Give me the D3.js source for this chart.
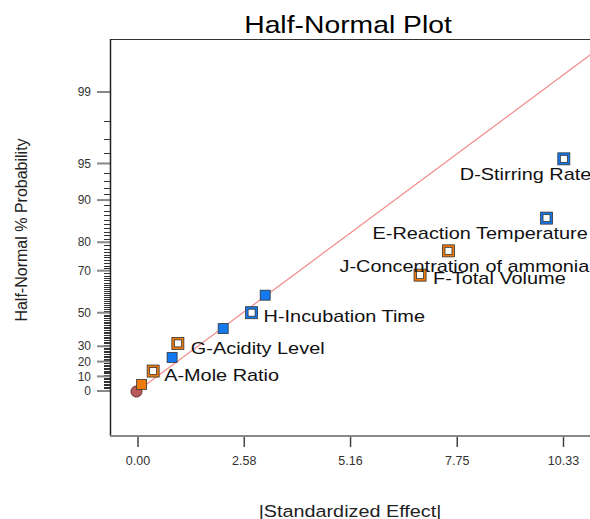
<!DOCTYPE html>
<html>
<head>
<meta charset="utf-8">
<script src="https://cdn.jsdelivr.net/npm/d3@7"></script>
<style>
	body { margin: 0; background: #fff; }
	svg { display: block; font-family: "Liberation Sans", Arial, sans-serif; }
</style>
</head>
<body>
<svg id="chart" width="590" height="519"></svg>
<script>
// |standardized effect| and half-normal % probability of each term
var effects = [0.10, 0.38, 0.84, 0.98, 2.08, 2.77, 3.10, 6.86, 7.55, 9.93, 10.35];
var probs   = [4.55, 13.64, 22.73, 31.82, 40.91, 50.00, 59.09, 68.18, 77.27, 86.36, 95.45];
var signs   = ["pos", "pos", "neg", "pos", "neg", "neg", "neg", "pos", "pos", "neg", "neg"];
var chosen  = [false, true, false, true, false, true, false, true, true, true, true];
var labels  = ["", "A-Mole Ratio", "", "G-Acidity Level", "", "H-Incubation Time", "",
               "F-Total Volume", "J-Concentration of ammonia", "E-Reaction Temperature", "D-Stirring Rate"];
// error estimate point
var errorEffect = [0];
var errorProb = [0];
// reference line: z = lineSlope * effect
var lineSlope = 0.2635;

var xTicks = [0.00, 2.58, 5.16, 7.75, 10.33];
var yMajor = [0, 10, 20, 30, 50, 70, 80, 90, 95, 99];

// label offsets in px from the marker (left x, baseline)
var labelDx = [0, 11, 0, 13, 0, 12, 0, 13, -109, -174, -104];
var labelDy = [0, 10, 0, 11, 0, 9, 0, 9, 21, 21, 21];

var colors = { pos: "#ef7a0c", neg: "#1479ee" };

// inverse normal cdf (Acklam)
function probit(p) {
	var a = [-3.969683028665376e+01, 2.209460984245205e+02, -2.759285104469687e+02, 1.383577518672690e+02, -3.066479806614716e+01, 2.506628277459239e+00];
	var b = [-5.447609879822406e+01, 1.615858368580409e+02, -1.556989798598866e+02, 6.680131188771972e+01, -1.328068155288572e+01];
	var c = [-7.784894002430293e-03, -3.223964580411365e-01, -2.400758277161838e+00, -2.549732539343734e+00, 4.374664141464968e+00, 2.938163982698783e+00];
	var d = [7.784695709041462e-03, 3.224671290700398e-01, 2.445134137142996e+00, 3.754408661907416e+00];
	var q, r;
	if (p < 0.02425) {
		q = Math.sqrt(-2 * Math.log(p));
		return (((((c[0]*q+c[1])*q+c[2])*q+c[3])*q+c[4])*q+c[5]) / ((((d[0]*q+d[1])*q+d[2])*q+d[3])*q+1);
	}
	if (p > 1 - 0.02425) {
		q = Math.sqrt(-2 * Math.log(1 - p));
		return -(((((c[0]*q+c[1])*q+c[2])*q+c[3])*q+c[4])*q+c[5]) / ((((d[0]*q+d[1])*q+d[2])*q+d[3])*q+1);
	}
	q = p - 0.5; r = q * q;
	return (((((a[0]*r+a[1])*r+a[2])*r+a[3])*r+a[4])*r+a[5])*q / (((((b[0]*r+b[1])*r+b[2])*r+b[3])*r+b[4])*r+1);
}
function halfZ(pct) { return pct <= 0 ? 0 : probit(0.5 + pct / 200); }

var svg = d3.select("#chart");
var frame = { left: 110, top: 39, right: 620, bottom: 436 };

var x = d3.scaleLinear().domain([0, 10.33]).range([137.5, 563]);
var yz = d3.scaleLinear().domain([0, halfZ(99)]).range([391, 92]);
function y(pct) { return yz(halfZ(pct)); }

svg.append("defs").append("clipPath").attr("id", "clip")
	.append("rect").attr("x", frame.left).attr("y", frame.top)
	.attr("width", frame.right - frame.left).attr("height", frame.bottom - frame.top);

// title
svg.append("text")
	.attr("transform", "translate(348,33) scale(1.18,1)")
	.attr("text-anchor", "middle").attr("font-size", 24).attr("fill", "#000")
	.text("Half-Normal Plot");

// y minor ticks
var minor = d3.range(1, 99).filter(function(v) { return yMajor.indexOf(v) < 0; });
svg.append("g").selectAll("line").data(minor).enter().append("line")
	.attr("x1", frame.left - 6).attr("x2", frame.left)
	.attr("y1", function(d) { return Math.round(y(d)) + 0.5; })
	.attr("y2", function(d) { return Math.round(y(d)) + 0.5; })
	.attr("stroke", "#333").attr("stroke-width", 1);

// y major ticks + labels
var yAxis = svg.append("g");
yAxis.selectAll("line").data(yMajor).enter().append("line")
	.attr("x1", frame.left - 13).attr("x2", frame.left)
	.attr("y1", function(d) { return y(d); }).attr("y2", function(d) { return y(d); })
	.attr("stroke", "#888").attr("stroke-width", 2);
yAxis.selectAll("text").data(yMajor).enter().append("text")
	.attr("x", 91).attr("y", function(d) { return y(d); }).attr("dy", "0.35em")
	.attr("text-anchor", "end").attr("font-size", 12).attr("fill", "#333")
	.text(function(d) { return d; });

// x axis
var xAxis = svg.append("g")
	.attr("transform", "translate(0," + frame.bottom + ")")
	.call(d3.axisBottom(x).tickValues(xTicks).tickSize(11).tickSizeOuter(0)
		.tickFormat(d3.format(".2f")));
xAxis.select(".domain").remove();
xAxis.selectAll(".tick line").attr("stroke", "#444").attr("stroke-width", 1.5);
xAxis.selectAll(".tick text").attr("font-size", 12.5).attr("fill", "#333")
	.attr("font-family", "Liberation Sans, Arial, sans-serif").attr("y", 20);

// frame
svg.append("line").attr("x1", frame.left).attr("x2", frame.right)
	.attr("y1", frame.top + 0.5).attr("y2", frame.top + 0.5).attr("stroke", "#333").attr("stroke-width", 1.2);
svg.append("line").attr("x1", frame.left + 0.5).attr("x2", frame.left + 0.5)
	.attr("y1", frame.top).attr("y2", frame.bottom).attr("stroke", "#222").attr("stroke-width", 1.5);
svg.append("line").attr("x1", frame.left).attr("x2", frame.right)
	.attr("y1", frame.bottom).attr("y2", frame.bottom).attr("stroke", "#888").attr("stroke-width", 2);

// axis titles
svg.append("text")
	.attr("transform", "translate(27,230) rotate(-90)")
	.attr("text-anchor", "middle").attr("font-size", 16).attr("fill", "#222")
	.text("Half-Normal % Probability");
svg.append("text")
	.attr("transform", "translate(350,517) scale(1.2,1)")
	.attr("text-anchor", "middle").attr("font-size", 16.5).attr("fill", "#222")
	.text("|Standardized Effect|");

// reference line
var lineEffects = [0, 12];
svg.append("path")
	.datum(lineEffects)
	.attr("clip-path", "url(#clip)")
	.attr("fill", "none").attr("stroke", "#f28a8a").attr("stroke-width", 1.2)
	.attr("d", d3.line()
		.x(function(d) { return x(d); })
		.y(function(d) { return yz(lineSlope * d); }));

// error point
svg.append("g").selectAll("circle").data(errorEffect).enter().append("circle")
	.attr("cx", function(d) { return x(d) - 1; })
	.attr("cy", function(d, i) { return y(errorProb[i]) + 0.5; })
	.attr("r", 5.5)
	.attr("fill", "#b85a5a").attr("stroke", "#5a2828").attr("stroke-width", 1);

// term markers
var pts = effects.map(function(e, i) {
	return { e: e, p: probs[i], s: signs[i], c: chosen[i], label: labels[i], dx: labelDx[i], dy: labelDy[i] };
});
var marks = svg.append("g").selectAll("g").data(pts).enter().append("g")
	.attr("transform", function(d) { return "translate(" + x(d.e) + "," + y(d.p) + ")"; });

marks.filter(function(d) { return !d.c; }).append("rect")
	.attr("x", -5).attr("y", -5).attr("width", 10).attr("height", 10)
	.attr("fill", function(d) { return colors[d.s]; })
	.attr("stroke", "#333").attr("stroke-width", 0.8);

var hollow = marks.filter(function(d) { return d.c; });
hollow.append("rect")
	.attr("x", -6).attr("y", -6).attr("width", 12).attr("height", 12)
	.attr("fill", function(d) { return colors[d.s]; })
	.attr("stroke", "#333").attr("stroke-width", 0.8);
hollow.append("rect")
	.attr("x", -3.5).attr("y", -3.5).attr("width", 7).attr("height", 7)
	.attr("fill", "#fff").attr("stroke", "#333").attr("stroke-width", 0.8);

// labels
svg.append("g").selectAll("text").data(pts.filter(function(d) { return d.label; })).enter().append("text")
	.attr("transform", function(d) {
		return "translate(" + (x(d.e) + d.dx) + "," + (y(d.p) + d.dy) + ") scale(1.17,1)";
	})
	.attr("font-size", 17).attr("fill", "#111")
	.text(function(d) { return d.label; });
</script>
</body>
</html>
